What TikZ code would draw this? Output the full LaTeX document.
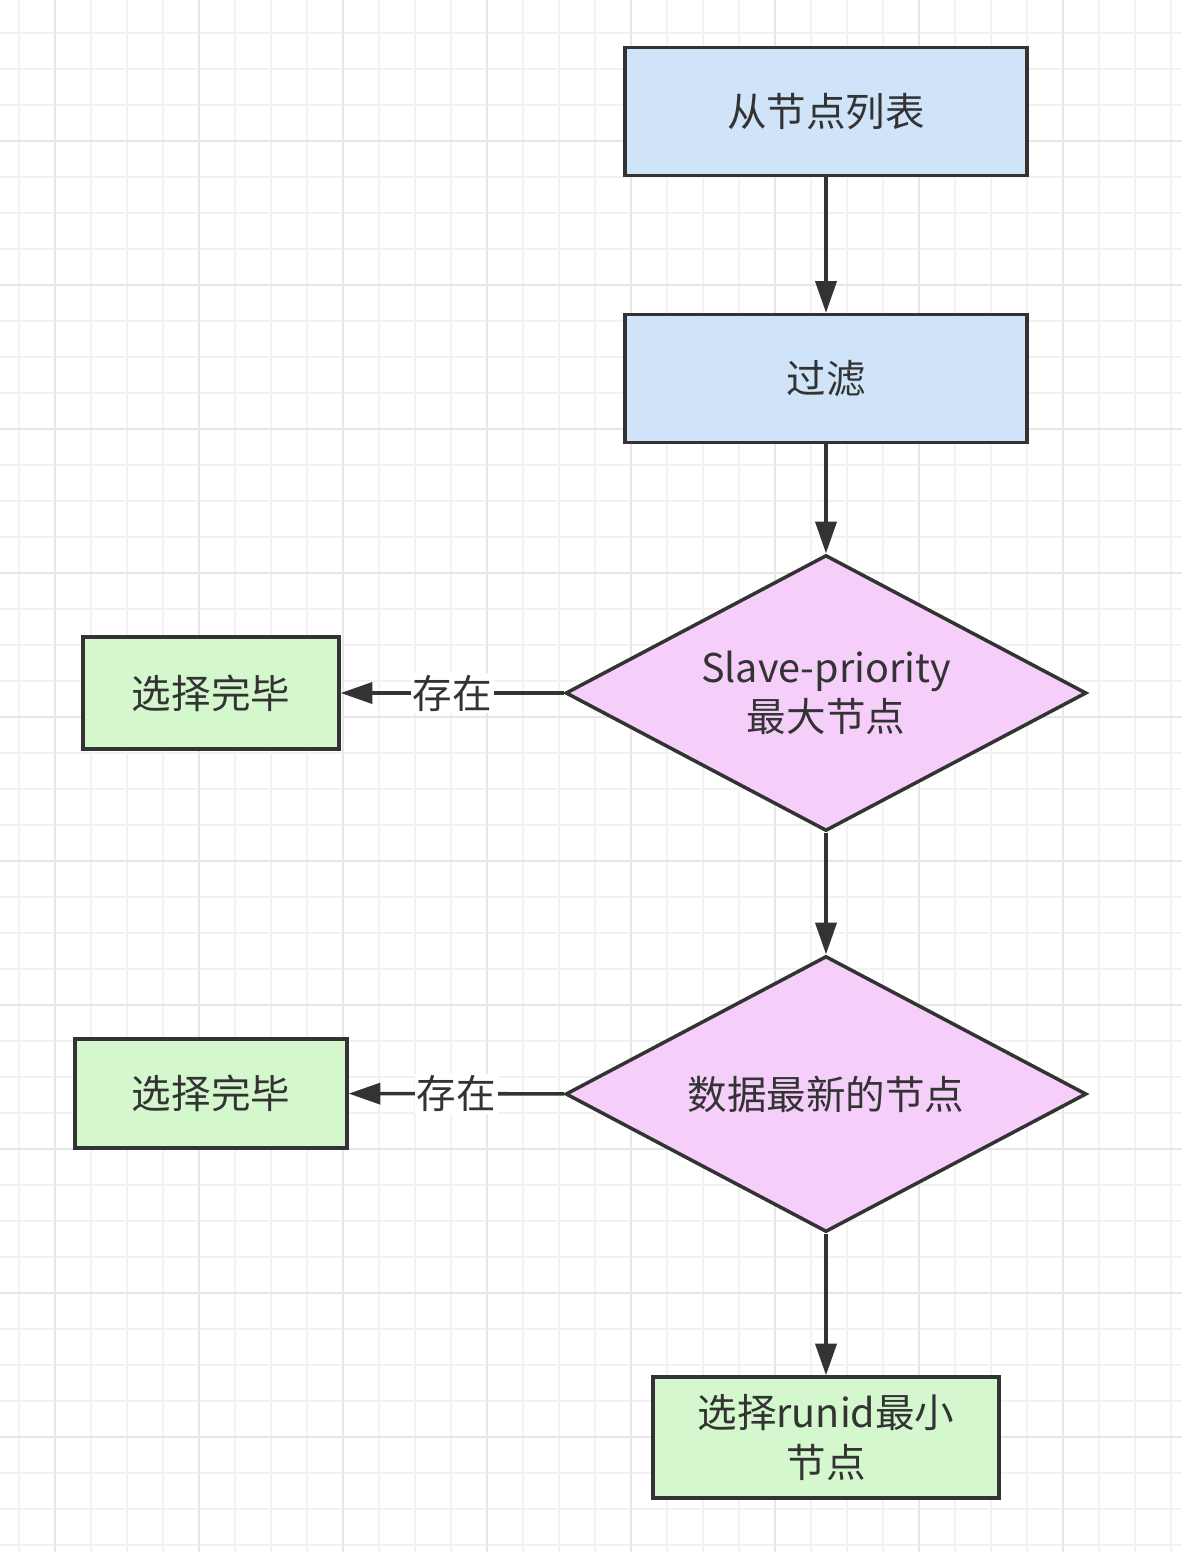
\documentclass[tikz,border=0pt]{standalone}
\usepackage{fontspec}
\setmainfont{Noto Sans CJK SC}
\usetikzlibrary{shapes.geometric,arrows.meta}
\definecolor{boxblue}{HTML}{CFE3F9}
\definecolor{boxpink}{HTML}{F5CFF9}
\definecolor{boxgreen}{HTML}{D4F7CE}
\definecolor{edge}{HTML}{333333}
\definecolor{gridminor}{HTML}{F2F2F2}
\definecolor{gridmajor}{HTML}{E6E6E6}
\tikzset{
  base/.style={draw=edge,line width=2pt,text=edge,inner sep=0pt,align=center,
    font=\fontsize{22.5}{28}\selectfont},
  stepbox/.style={base,rectangle,fill=boxblue,minimum width=8.04cm,minimum height=2.56cm},
  donebox/.style={base,rectangle,fill=boxgreen},
  choice/.style={base,diamond,aspect=1.89,fill=boxpink,minimum width=10.42cm,minimum height=5.52cm},
  flow/.style={draw=edge,line width=2pt,-{Triangle[length=18pt,width=12pt]}},
  tag/.style={fill=white,text=edge,inner sep=1pt,font=\fontsize{22.5}{28}\selectfont}
}
\begin{document}
\begin{tikzpicture}[x=0.02cm,y=-0.02cm]
\fill[white] (0,0) rectangle (1182,1552);
\useasboundingbox (0,0) rectangle (1182,1552);
% grid
\foreach \i in {19,55,...,1182} \draw[gridminor,line width=1.1pt] (\i,0) -- (\i,1552);
\foreach \i in {33,69,...,1552} \draw[gridminor,line width=1.1pt] (0,\i) -- (1182,\i);
\foreach \i in {55,199,...,1182} \draw[gridmajor,line width=1.1pt] (\i,0) -- (\i,1552);
\foreach \i in {141,285,...,1552} \draw[gridmajor,line width=1.1pt] (0,\i) -- (1182,\i);
% nodes
\node[stepbox] (list) at (826,111.5) {从节点列表};
\node[stepbox] (filter) at (826,378.5) {过滤};
\node[choice] (prio) at (826,693) {Slave-priority\\最大节点};
\node[choice] (offset) at (826,1094) {数据最新的节点};
\node[donebox,minimum width=5.12cm,minimum height=2.24cm] (done1) at (211,693) {选择完毕};
\node[donebox,minimum width=5.44cm,minimum height=2.18cm] (done2) at (211,1093.5) {选择完毕};
\node[donebox,minimum width=6.92cm,minimum height=2.42cm] (runid) at (826,1437.5) {选择runid最小\\节点};
% connectors
\draw[flow] (list) -- (filter);
\draw[flow] (filter) -- (prio);
\draw[flow] (prio) -- (offset);
\draw[flow] (offset) -- (runid);
\draw[flow] (prio) -- node[tag] (yes1) {存在} (done1);
\draw[flow] (offset) -- node[tag] (yes2) {存在} (done2);
\end{tikzpicture}
\end{document}
